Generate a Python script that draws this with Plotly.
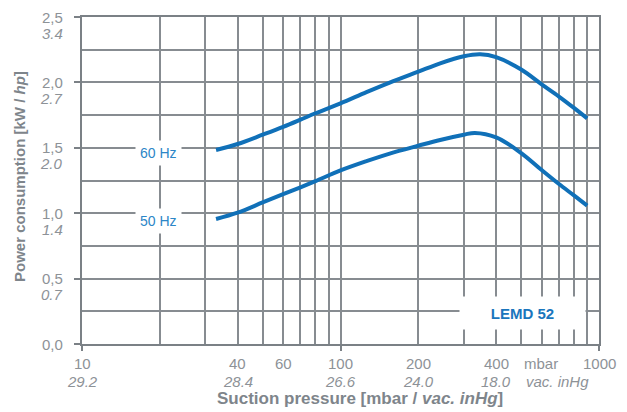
import math
import plotly.graph_objects as go

# ---- data ----
pressure_60 = [33, 40, 50, 60, 70, 80, 100, 126, 155, 200, 243, 300, 347, 400, 500, 600, 700, 800, 900]
power_60 = [1.483, 1.529, 1.60, 1.66, 1.715, 1.764, 1.84, 1.925, 1.998, 2.082, 2.146, 2.200, 2.215, 2.193, 2.098, 1.985, 1.892, 1.805, 1.725]

pressure_50 = [33, 40, 50, 60, 70, 80, 100, 126, 155, 200, 243, 300, 331, 400, 500, 600, 700, 800, 900]
power_50 = [0.956, 1.004, 1.082, 1.146, 1.198, 1.245, 1.327, 1.398, 1.456, 1.516, 1.560, 1.600, 1.614, 1.580, 1.460, 1.330, 1.223, 1.136, 1.058]

y_major = [0, 0.5, 1.0, 1.5, 2.0, 2.5]
y_minor = [0.25, 0.75, 1.25, 1.75, 2.25]
y_labels_kw = ["0,0", "0,5", "1,0", "1,5", "2,0", "2,5"]
y_labels_hp = ["", "0.7", "1.4", "2.0", "2.7", "3.4"]

x_major = [10, 100, 1000]
x_minor = [20, 30, 40, 50, 60, 70, 80, 90, 200, 300, 400, 500, 600, 700, 800, 900]
x_label_vals = [10, 40, 60, 100, 200, 400, 1000]
x_labels_mbar = ["10", "40", "60", "100", "200", "400", "1000"]
x_labels_inhg = ["29.2", "28.4", "", "26.6", "24.0", "18.0", ""]

curve_names = ["60 Hz", "50 Hz"]
model = "LEMD 52"

# ---- style ----
BLUE = "#1070b8"
LBLUE = "#2c86c7"
GRID = "#878c91"
AXIS = "#7b8186"
TXT = "#8d9297"
TITLE = "#7e858b"
FONT = "Arial, Liberation Sans, sans-serif"

# plot area in pixels (for label placement)
L, R, T, B = 82, 599, 17, 344
W = R - L
H = B - T


def px(xp):
    return (xp - L) / W


def py(yp):
    return (B - yp) / H


fig = go.Figure()
for xs, ys in [(pressure_60, power_60), (pressure_50, power_50)]:
    fig.add_trace(go.Scatter(x=xs, y=ys, mode="lines",
                             line=dict(color=BLUE, width=4, shape="spline", smoothing=1.0),
                             showlegend=False, hoverinfo="skip"))

annotations = []
# y tick labels (two rows)
for v, a, b in zip(y_major, y_labels_kw, y_labels_hp):
    annotations.append(dict(x=0, xref="paper", y=v, yref="y", text=a, showarrow=False,
                            xanchor="right", yanchor="middle", xshift=-17,
                            font=dict(size=15, color=TXT, family=FONT)))
    if b:
        annotations.append(dict(x=0, xref="paper", y=v, yref="y", text="<i>" + b + "</i>",
                                showarrow=False, xanchor="right", yanchor="middle",
                                xshift=-17, yshift=-16,
                                font=dict(size=15, color=TXT, family=FONT)))
# x tick labels (two rows)
for v, a, b in zip(x_label_vals, x_labels_mbar, x_labels_inhg):
    annotations.append(dict(x=math.log10(v), xref="x", y=0, yref="paper", text=a,
                            showarrow=False, xanchor="center", yanchor="middle", yshift=-19,
                            font=dict(size=15, color=TXT, family=FONT)))
    if b:
        annotations.append(dict(x=math.log10(v), xref="x", y=0, yref="paper",
                                text="<i>" + b + "</i>", showarrow=False,
                                xanchor="center", yanchor="middle", yshift=-37,
                                font=dict(size=15, color=TXT, family=FONT)))
# unit labels
annotations.append(dict(x=px(541), xref="paper", y=0, yref="paper", text="mbar",
                        showarrow=False, xanchor="center", yanchor="middle", yshift=-19,
                        font=dict(size=15, color=TXT, family=FONT)))
annotations.append(dict(x=px(557), xref="paper", y=0, yref="paper",
                        text="<i>vac. inHg</i>", showarrow=False, xanchor="center",
                        yanchor="middle", yshift=-37,
                        font=dict(size=15, color=TXT, family=FONT)))
# axis titles
annotations.append(dict(x=px(360), xref="paper", y=0, yref="paper",
                        text="<b>Suction pressure [mbar / <i>vac. inHg</i>]</b>",
                        showarrow=False, xanchor="center", yanchor="middle", yshift=-54,
                        font=dict(size=17, color=TITLE, family=FONT)))
annotations.append(dict(x=0, xref="paper", y=py(177), yref="paper",
                        text="<b>Power consumption [kW / <i>hp</i>]</b>", textangle=-90,
                        showarrow=False, xanchor="center", yanchor="middle", xshift=-63,
                        font=dict(size=15, color=TITLE, family=FONT)))
# curve labels
annotations.append(dict(x=px(158), xref="paper", y=py(153), yref="paper",
                        text=curve_names[0], showarrow=False, xanchor="center",
                        yanchor="middle", bgcolor="white", borderpad=4,
                        font=dict(size=14, color=LBLUE, family=FONT)))
annotations.append(dict(x=px(158), xref="paper", y=py(221), yref="paper",
                        text=curve_names[1], showarrow=False, xanchor="center",
                        yanchor="middle", bgcolor="white", borderpad=4,
                        font=dict(size=14, color=LBLUE, family=FONT)))
# model box
annotations.append(dict(x=px(522), xref="paper", y=py(313), yref="paper",
                        text="<b>" + model + "</b>", showarrow=False, xanchor="center",
                        yanchor="middle", bgcolor="white", width=123, height=30,
                        font=dict(size=15, color="#1a76bd", family=FONT)))

fig.update_layout(
    width=627, height=412,
    margin=dict(l=L, r=627 - R, t=T, b=412 - B),
    paper_bgcolor="white", plot_bgcolor="white",
    showlegend=False,
    annotations=annotations,
    xaxis=dict(type="log", range=[1, 3], tickmode="array", tickvals=x_major,
               showticklabels=False, ticks="outside", ticklen=5, tickwidth=2,
               tickcolor=AXIS, showgrid=True, gridcolor=GRID, gridwidth=2,
               showline=True, linecolor=AXIS, linewidth=2, mirror=True, zeroline=False,
               minor=dict(tickmode="array", tickvals=x_minor, showgrid=True,
                          gridcolor=GRID, gridwidth=2, ticks="")),
    yaxis=dict(range=[0, 2.5], tickmode="array", tickvals=y_major,
               showticklabels=False, ticks="outside", ticklen=6, tickwidth=2,
               tickcolor=AXIS, showgrid=True, gridcolor=GRID, gridwidth=2,
               showline=True, linecolor=AXIS, linewidth=2, mirror=True, zeroline=False,
               minor=dict(tickmode="array", tickvals=y_minor, showgrid=True,
                          gridcolor=GRID, gridwidth=2, ticks="")),
)

fig.write_html("out.html", config={"displayModeBar": False},
               post_script="document.body.style.margin='0';document.body.style.overflow='hidden';")
